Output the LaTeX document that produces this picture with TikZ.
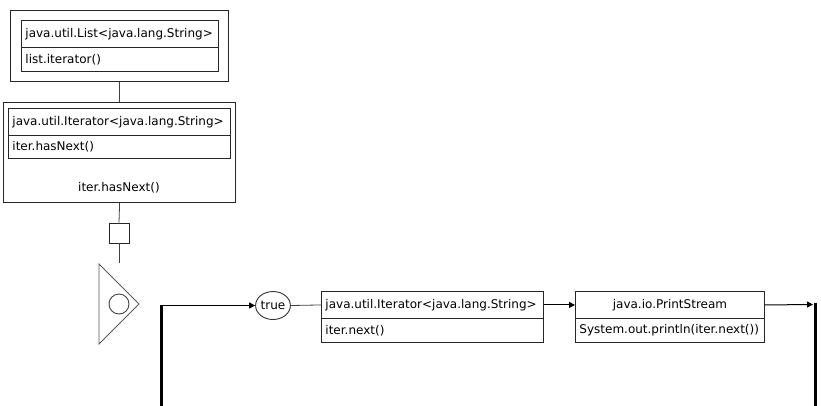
\documentclass[tikz,border=0pt]{standalone}
\usepackage{fontspec}
\setmainfont{DejaVu Sans}
\usetikzlibrary{arrows.meta,shapes.geometric}
\begin{document}
\begin{tikzpicture}[x=1pt,y=-1pt,
  font=\fontsize{12}{14}\selectfont,
  outerbox/.style={draw=black!85,line width=1.2pt,rectangle,anchor=north west,inner sep=0pt},
  cell/.style={draw=black!85,line width=0.9pt,rectangle,anchor=north west,inner xsep=4pt,inner ysep=0pt,align=left},
  ccell/.style={draw=black!85,line width=0.9pt,rectangle,anchor=north west,inner xsep=4pt,inner ysep=0pt,align=center},
  link/.style={draw=black!75,line width=0.8pt},
  flow/.style={draw=black,line width=1pt,-{Triangle[length=6pt,width=6pt]}},
  heavy/.style={draw=black,line width=3pt},
  shapeline/.style={draw=black!65,line width=0.9pt}]
\useasboundingbox (0,0) rectangle (821,405);
% box 1
\node[outerbox,minimum width=218pt,minimum height=71pt] (outer1) at (10,10) {};
\node[cell,minimum width=197pt,minimum height=27pt,text width=189pt] (c1a) at (21,20) {java.util.List<java.lang.String>};
\node[cell,minimum width=197pt,minimum height=24pt,text width=189pt] (c1b) at (21,47) {list.iterator()};
% box 2
\node[outerbox,minimum width=232pt,minimum height=100pt] (outer2) at (3,102) {};
\node[cell,minimum width=222pt,minimum height=27pt,text width=214pt] (c2a) at (8,108) {java.util.Iterator<java.lang.String>};
\node[cell,minimum width=222pt,minimum height=23pt,text width=214pt] (c2b) at (8,135) {iter.hasNext()};
\node[inner sep=0pt] (cond) at (119,188) {iter.hasNext()};
\draw[link] (outer1.south) -- (outer2.north);
% square
\node[draw=black!85,line width=0.9pt,minimum width=20pt,minimum height=20pt,inner sep=0pt] (sq) at (119,233) {};
\draw[link] (outer2.south) -- (sq.north);
\coordinate (sqend) at (119,263);
\draw[link] (sq.south) -- (sqend);
% triangle with circle
\draw[shapeline] (99,264) -- (139,304) -- (99,344) -- cycle;
\node[draw=black!75,line width=0.9pt,circle,minimum size=20pt,inner sep=0pt] (circ) at (119,304) {};
% loop
\coordinate (loopB) at (161.5,406);
\coordinate (loopT) at (161.5,305.5);
\draw[heavy] (loopB) -- (loopT);
\node[draw=black!80,line width=0.9pt,ellipse,minimum width=34pt,minimum height=28pt,inner sep=0pt] (tr) at (273,305.5) {true};
\draw[flow] (160,305.5) -- (tr.west);
% iterator next
\node[cell,minimum width=222pt,minimum height=27pt,text width=214pt] (it1) at (321,291) {java.util.Iterator<java.lang.String>};
\node[cell,minimum width=222pt,minimum height=24pt,text width=214pt] (it2) at (321,318) {iter.next()};
\draw[link] (tr.east) -- (it1.west);
% printstream
\node[ccell,minimum width=189pt,minimum height=27pt,text width=181pt] (ps1) at (575,291) {java.io.PrintStream};
\node[cell,minimum width=189pt,minimum height=24pt,text width=181pt] (ps2) at (575,318) {System.out.println(iter.next())};
\draw[flow] (it1.east) -- (ps1.west);
\coordinate (rEnd) at (813,304.5);
\draw[flow] (ps1.east) -- (rEnd);
\coordinate (rTop) at (815,303);
\coordinate (rBot) at (815,406);
\draw[heavy] (rTop) -- (rBot);
\end{tikzpicture}
\end{document}
